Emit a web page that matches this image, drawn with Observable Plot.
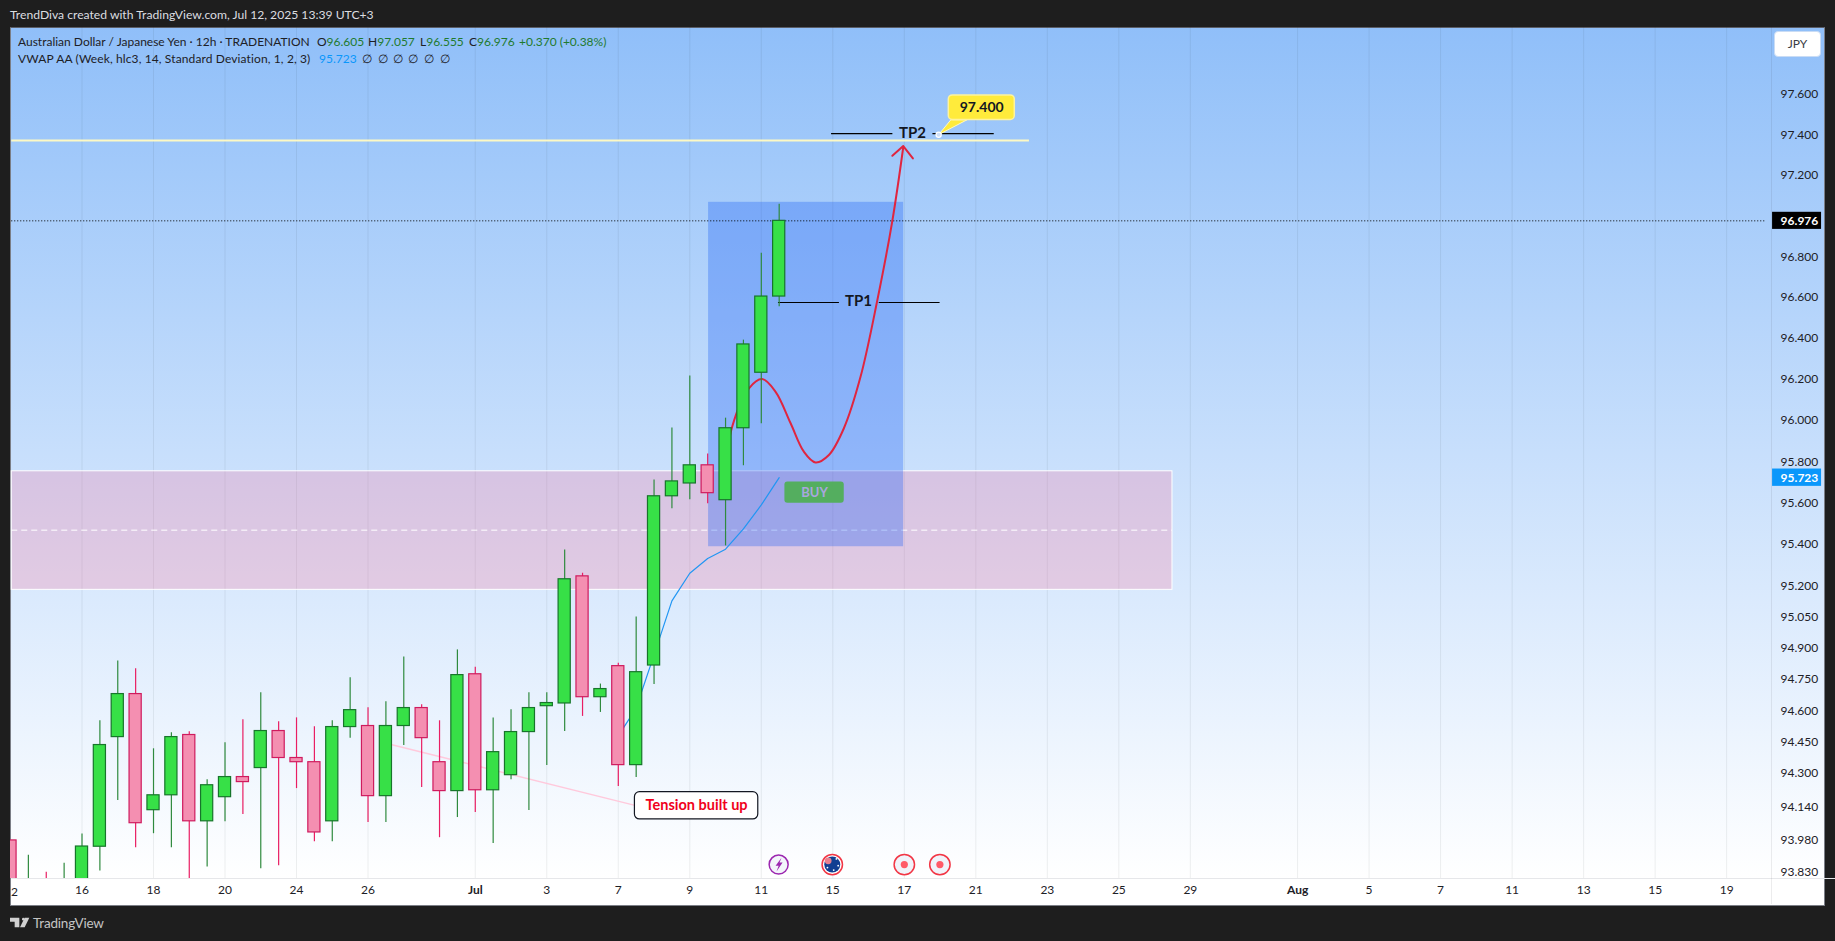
<!DOCTYPE html>
<html><head><meta charset="utf-8">
<script src="https://cdn.jsdelivr.net/npm/d3@7"></script>
<script src="https://cdn.jsdelivr.net/npm/@observablehq/plot@0.6"></script>
<style>
html,body{margin:0;padding:0;width:1835px;height:941px;overflow:hidden;background:#1e1e1e;font-family:Lato,sans-serif}
#pane{position:absolute;left:10px;top:27px;width:1815px;height:879px;box-sizing:border-box;border:1px solid #7b7e86;border-top-color:#5a5d66;
background:linear-gradient(#90bff9 0,#ffffff 851px,#ffffff 100%)}
#chart{position:absolute;left:0;top:0}
.t{position:absolute;white-space:pre;font-size:12px;line-height:14px;color:#1d2026}
.g{color:#1f7a2e}
</style></head><body>
<div id="pane"></div><div id="chart"></div>
<div class="t" style="left:10px;top:8px;color:#dcdde0;font-size:12.15px">TrendDiva created with TradingView.com, Jul 12, 2025 13:39 UTC+3</div>
<div class="t" style="left:18px;top:35px">Australian Dollar / Japanese Yen · 12h · TRADENATION</div>
<div class="t" style="left:317px;top:35px">O<span class="g">96.605</span></div>
<div class="t" style="left:368px;top:35px">H<span class="g">97.057</span></div>
<div class="t" style="left:420px;top:35px">L<span class="g">96.555</span></div>
<div class="t" style="left:469px;top:35px">C<span class="g">96.976</span></div>
<div class="t g" style="left:519px;top:35px">+0.370 (+0.38%)</div>
<div class="t" style="left:18px;top:52px;letter-spacing:.12px">VWAP AA (Week, hlc3, 14, Standard Deviation, 1, 2, 3)</div>
<div class="t" style="left:319px;top:52px;color:#0a97fb">95.723</div>
<div class="t" style="left:362px;top:52px">∅</div>
<div class="t" style="left:378px;top:52px">∅</div>
<div class="t" style="left:393px;top:52px">∅</div>
<div class="t" style="left:408px;top:52px">∅</div>
<div class="t" style="left:424px;top:52px">∅</div>
<div class="t" style="left:440px;top:52px">∅</div>
<div style="position:absolute;left:1774px;top:31px;width:47px;height:26px;box-sizing:border-box;background:#fff;border:1px solid #c9dcf5;border-radius:4px;text-align:center;font-size:12px;line-height:24px;color:#3a3d45">JPY</div>
<svg style="position:absolute;left:10px;top:917px" width="20" height="11" viewBox="0 6 30 14" fill="#d0d0d0"><path d="M14 6H0v6h7v8h7V6Z"/><circle cx="20" cy="8" r="2"/><path d="M29 6h-7l-7 14h7l7-14Z"/></svg>
<div style="position:absolute;left:33px;top:915px;font-size:13.5px;line-height:17px;color:#c4c4c4;letter-spacing:-.2px">TradingView</div>
<script>
const bars   = [-4,-3,-2,-1,0,1,2,3,4,5,6,7,8,9,10,11,12,13,14,15,16,17,18,19,20,21,22,23,24,25,26,27,28,29,30,31,32,33,34,35,36,37,38,39];
const opens  = [93.981,93.60,93.70,93.62,93.72,93.951,94.474,94.680,94.125,94.196,94.484,94.072,94.187,94.283,94.326,94.503,94.374,94.354,94.072,94.522,94.527,94.192,94.527,94.613,94.354,94.216,94.775,94.220,94.292,94.498,94.622,94.635,95.246,94.665,94.814,94.340,94.817,95.633,95.695,95.783,95.614,95.963,96.233,96.605];
const closes = [93.74,93.76,93.60,93.75,93.952,94.436,94.680,94.063,94.196,94.474,94.072,94.244,94.283,94.259,94.503,94.374,94.354,94.019,94.522,94.603,94.192,94.527,94.613,94.469,94.216,94.771,94.220,94.402,94.498,94.613,94.637,95.232,94.665,94.704,94.340,94.785,95.633,95.705,95.783,95.648,95.963,96.371,96.605,96.976];
const highs  = [93.981,93.911,93.830,93.873,94.012,94.552,94.839,94.801,94.418,94.495,94.500,94.270,94.447,94.557,94.686,94.547,94.566,94.523,94.552,94.758,94.614,94.643,94.858,94.629,94.552,94.892,94.809,94.565,94.605,94.686,94.686,95.373,95.261,94.728,94.828,95.050,95.712,95.964,96.217,95.838,96.012,96.392,96.817,97.057];
const lows   = [93.70,93.55,93.50,93.55,93.65,93.836,94.171,93.946,94.013,93.946,93.80,93.855,94.070,94.104,93.846,93.860,94.228,93.975,93.975,94.468,94.066,94.066,94.434,94.233,93.994,94.090,94.114,93.966,94.27,94.123,94.338,94.501,94.573,94.592,94.238,94.281,94.726,95.573,95.616,95.597,95.393,95.781,95.985,96.555];

const vwapBars = [30,31,32,33,34,35,36,37,38,39];
const vwapVals = [94.48,94.613,94.868,95.128,95.261,95.332,95.377,95.475,95.591,95.723];

const curveBars = [35.96,36.37,37.31,38.05,38.80,39.64,40.38,41.03,41.78,42.62,43.55,44.49,45.33,45.94];
const curveVals = [95.744,95.970,96.157,96.202,96.140,95.987,95.849,95.797,95.833,95.963,96.213,96.587,96.976,97.338];
const arrowBars = [45.33,45.94,46.48];
const arrowVals = [97.296,97.344,97.283];

const yTicks = [97.6,97.4,97.2,97.0,96.8,96.6,96.4,96.2,96.0,95.8,95.6,95.4,95.2,95.05,94.9,94.75,94.6,94.45,94.3,94.14,93.98,93.83];
const xTickBars   = [0,4,8,12,16,26,30,34,38,42,46,50,54,58,62,72,76,80,84,88,92];
const xTickLabels = ["16","18","20","24","26","3","7","9","11","15","17","21","23","25","29","5","7","11","13","15","19"];
const monthBars   = [22,68];
const monthLabels = ["Jul","Aug"];
const lastClose = 96.976, lastVwap = 95.723, tp2Price = 97.400;
const eventBars = [46,47.99];

const Y0=93.80, Y1=97.93, YAX=93.676, XAX=94.51, XL=-3.93;
const cands = bars.map((b,i)=>({b,o:opens[i],c:closes[i],h:highs[i],l:lows[i],up:closes[i]>=opens[i]}));
const seg = (xs,ys)=>xs.map((x,i)=>({x,y:ys[i]}));
const GREEN="#37e047",GREENB="#17752b",GREENW="#2f8a3e",PINK="#f48fb1",PINKB="#cf1b5e",PINKW="#e91e63";

const plot = Plot.plot({
  width:1835,height:941,marginLeft:10,marginRight:64,marginTop:27,marginBottom:63,
  style:{background:"transparent",fontFamily:"Lato,sans-serif",color:"#1d2026"},
  x:{type:"linear",domain:[-4,XAX],axis:null},
  y:{type:"log",domain:[Y0,Y1],axis:null},
  marks:[
    Plot.gridX([...xTickBars,...monthBars],{stroke:"#2a2e39",strokeOpacity:.08}),
    Plot.ruleY([Y0],{x1:XL,x2:99.5,stroke:"#e6e7ea"}),
    Plot.ruleX([XAX],{y1:YAX,y2:Y1,stroke:"#2a2e39",strokeOpacity:.09}),
    // zones
    Plot.rect([{x1:XL,x2:61,y1:95.181,y2:95.754}],{x1:"x1",x2:"x2",y1:"y1",y2:"y2",fill:"#fc7098",fillOpacity:.25,stroke:"#fff",strokeWidth:1}),
    Plot.ruleY([95.469],{x1:XL,x2:61,stroke:"#fff",strokeDasharray:"6,4",strokeWidth:1}),
    Plot.rect([{x1:35.05,x2:45.96,y1:95.389,y2:97.067}],{x1:"x1",x2:"x2",y1:"y1",y2:"y2",fill:"#1a5cf5",fillOpacity:.32}),
    // dotted last price
    Plot.ruleY([lastClose],{x1:XL,x2:XAX-.3,stroke:"#000",strokeDasharray:"1,2"}),
    // tension connector
    Plot.line(seg([17,30.93],[94.445,94.148]),{x:"x",y:"y",stroke:"#ffc9dc",strokeWidth:1.5}),
    // lines under candles
    Plot.line(seg(vwapBars,vwapVals),{x:"x",y:"y",stroke:"#2196f3",strokeWidth:1.2}),
    Plot.line(seg(curveBars,curveVals),{x:"x",y:"y",curve:"catmull-rom",stroke:"#e0253f",strokeWidth:2}),
    Plot.line(seg(arrowBars,arrowVals),{x:"x",y:"y",stroke:"#e0253f",strokeWidth:2}),
    // TP lines
    Plot.ruleY([97.371],{x1:XL,x2:53,stroke:"#fdf9c4",strokeWidth:2}),
    Plot.ruleY([96.576],{x1:38.96,x2:42.37,stroke:"#000",strokeWidth:1.2}),
    Plot.ruleY([96.576],{x1:44.6,x2:48,stroke:"#000",strokeWidth:1.2}),
    Plot.ruleY([97.405],{x1:41.93,x2:45.36,stroke:"#000",strokeWidth:1.2}),
    Plot.ruleY([97.405],{x1:47.6,x2:51.03,stroke:"#000",strokeWidth:1.2}),
    Plot.text(["TP1"],{x:43.44,y:96.58,fontSize:15,fontWeight:700,fill:"#131722"}),
    Plot.text(["TP2"],{x:46.46,y:97.405,fontSize:15,fontWeight:700,fill:"#131722"}),
    // yellow callout
    Plot.line(seg([48.6,47.92,49.5,48.6],[97.473,97.40,97.473,97.473]),{x:"x",y:"y",fill:"#ffeb3b",stroke:"#fdf9c4",strokeWidth:1}),
    Plot.dot([{x:47.92,y:97.40}],{x:"x",y:"y",r:2.6,fill:"#cfe0f8",stroke:"#fff",strokeWidth:1.2}),
    Plot.rect([{x1:48.49,x2:52.18,y1:97.473,y2:97.594}],{x1:"x1",x2:"x2",y1:"y1",y2:"y2",fill:"#ffeb3b",stroke:"#fdf3a0",strokeWidth:1.5,rx:4}),
    Plot.text([tp2Price],{x:50.33,y:97.533,text:d=>d3.format(".3f")(d),fontSize:14,fontWeight:700,fill:"#131722"}),
    // candles
    Plot.ruleX(cands,{x:"b",y1:"l",y2:"h",stroke:d=>d.up?GREENW:PINKW,strokeWidth:1.2,clip:true}),
    Plot.rect(cands,{x1:d=>d.b-.34,x2:d=>d.b+.34,y1:d=>Math.min(d.o,d.c),y2:d=>Math.max(d.o,d.c),fill:d=>d.up?GREEN:PINK,stroke:d=>d.up?GREENB:PINKB,strokeWidth:1.2,clip:true}),
    // BUY
    Plot.rect([{x1:39.32,x2:42.64,y1:95.599,y2:95.702}],{x1:"x1",x2:"x2",y1:"y1",y2:"y2",fill:"#4caf50",fillOpacity:.9,rx:3}),
    Plot.text(["BUY"],{x:40.98,y:95.65,fontSize:13,fontWeight:700,fill:"#a9a6de"}),
    // tension label
    Plot.rect([{x1:30.93,x2:37.83,y1:94.081,y2:94.211}],{x1:"x1",x2:"x2",y1:"y1",y2:"y2",fill:"#fff",stroke:"#131722",strokeWidth:1.2,rx:5}),
    Plot.text(["Tension built up"],{x:34.38,y:94.146,fontSize:14.5,fontWeight:700,fill:"#f0001c"}),
    // event icons
    Plot.dot([38.97],{x:d=>d,y:93.866,r:9.5,fill:"#f3f5fb",stroke:"#9c27b0",strokeWidth:1.5}),
    Plot.line(seg([39.13,38.80,38.97,38.85,39.19,39.02,39.13],[93.899,93.861,93.861,93.833,93.876,93.876,93.899]),{x:"x",y:"y",fill:"#9c27b0",stroke:"none"}),
    Plot.dot([41.97],{x:d=>d,y:93.866,r:10.2,fill:"#fff",stroke:"#f23645",strokeWidth:1.5}),
    Plot.dot([41.97],{x:d=>d,y:93.866,r:8,fill:"#123f92"}),
    Plot.dot([{x:41.74,y:93.884}],{x:"x",y:"y",r:3.4,fill:"#e8808f"}),
    Plot.dot([{x:42.2,y:93.893},{x:42.3,y:93.861},{x:41.7,y:93.852},{x:42.05,y:93.84}],{x:"x",y:"y",r:.9,fill:"#fff"}),
    Plot.dot(eventBars,{x:d=>d,y:93.866,r:10.2,fill:"#f0f3fa",stroke:"#f23645",strokeWidth:1.5}),
    Plot.dot(eventBars,{x:d=>d,y:93.866,r:3.6,fill:"#ff5a68"}),
    // axes
    Plot.axisY(yTicks,{anchor:"right",tickSize:0,tickPadding:9,tickFormat:d3.format(".3f"),fontSize:12,fill:"#1d2026"}),
    Plot.axisX(xTickBars,{anchor:"bottom",tickSize:0,tickPadding:7,tickFormat:d=>xTickLabels[xTickBars.indexOf(d)],fontSize:12,fill:"#1d2026"}),
    Plot.axisX(monthBars,{anchor:"bottom",tickSize:0,tickPadding:7,tickFormat:d=>monthLabels[monthBars.indexOf(d)],fontSize:12,fontWeight:700,fill:"#1d2026"}),
    Plot.text(["2"],{x:-3.78,y:93.733,fontSize:12,fill:"#1d2026"}),
    // price boxes
    Plot.rect([lastClose],{x1:94.57,x2:97.31,y1:d=>d-.042,y2:d=>d+.042,fill:"#000"}),
    Plot.text([lastClose],{x:95.02,y:d=>d,text:d=>d3.format(".3f")(d),textAnchor:"start",fontSize:12,fontWeight:700,fill:"#fff"}),
    Plot.rect([lastVwap],{x1:94.57,x2:97.31,y1:d=>d-.042,y2:d=>d+.042,fill:"#0a97fb"}),
    Plot.text([lastVwap],{x:95.02,y:d=>d,text:d=>d3.format(".3f")(d),textAnchor:"start",fontSize:12,fontWeight:700,fill:"#fff"})
  ]
});
document.getElementById("chart").appendChild(plot);
</script>
</body></html>
